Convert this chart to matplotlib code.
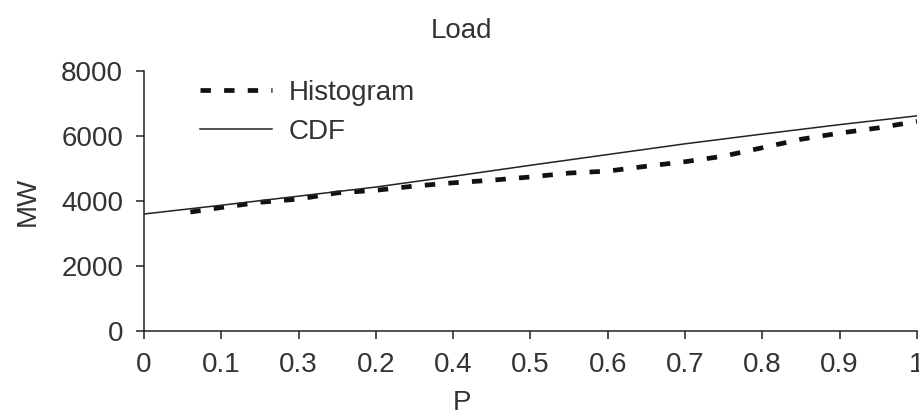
import matplotlib
matplotlib.use('Agg')
import matplotlib.pyplot as plt

plt.rcParams['font.family'] = ['Liberation Sans', 'DejaVu Sans']

# CDF curve (P vs MW)
cdf_p = [0.0, 0.1, 0.2, 0.3, 0.4, 0.5, 0.6, 0.7, 0.8, 0.9, 1.0]
cdf_mw = [3600, 3870, 4150, 4430, 4760, 5100, 5430, 5760, 6060, 6350, 6620]

# histogram steps
hist_p = [0.06, 0.1, 0.15, 0.2, 0.25, 0.3, 0.35, 0.4, 0.45, 0.5,
          0.55, 0.6, 0.65, 0.7, 0.75, 0.8, 0.85, 0.9, 0.95, 1.0]
hist_mw = [3660, 3800, 3960, 4060, 4250, 4330, 4460, 4560, 4640, 4740,
           4860, 4920, 5070, 5210, 5380, 5640, 5900, 6090, 6250, 6450]

x_ticks = [0, 0.1, 0.2, 0.3, 0.4, 0.5, 0.6, 0.7, 0.8, 0.9, 1.0]
x_labels = ['0', '0.1', '0.3', '0.2', '0.4', '0.5', '0.6', '0.7', '0.8', '0.9', '1']
y_ticks = [0, 2000, 4000, 6000, 8000]

fs = 20
txt = '#333333'

fig = plt.figure(figsize=(9.2, 4.16), dpi=100)
ax = fig.add_axes([0.1565, 0.2043, 0.8402, 0.625])

ax.plot(hist_p, hist_mw, color='#111111', lw=3.4, dashes=(2.2, 2.8), label='Histogram')
ax.plot(cdf_p, cdf_mw, color='#222222', lw=1.1, label='CDF')

ax.set_xlim(0, 1)
ax.set_ylim(0, 8000)
ax.set_xticks(x_ticks)
ax.set_xticklabels(x_labels)
ax.set_yticks(y_ticks)
ax.spines['top'].set_visible(False)
ax.spines['right'].set_visible(False)
for s in ['left', 'bottom']:
    ax.spines[s].set_linewidth(1.1)
    ax.spines[s].set_color('#222222')
ax.tick_params(direction='out', length=6, width=1.1, colors='#222222',
               labelsize=fs, labelcolor=txt)
ax.tick_params(axis='x', pad=9)
ax.tick_params(axis='y', pad=9)

# title and P sit at the middle of the figure, not of the axes
ax.set_title('Load', fontsize=fs, color=txt, pad=24, x=0.411)
ax.set_xlabel('P', fontsize=fs, color=txt, labelpad=9, x=0.411)
ax.set_ylabel('MW', fontsize=fs, color=txt, labelpad=15)

leg = ax.legend(loc='upper left', bbox_to_anchor=(0.072, 0.965), frameon=False,
                fontsize=fs, handlelength=2.6, handletextpad=0.6,
                labelspacing=0.45, borderpad=0, borderaxespad=0,
                labelcolor=txt)

fig.savefig('out.png', dpi=100)
